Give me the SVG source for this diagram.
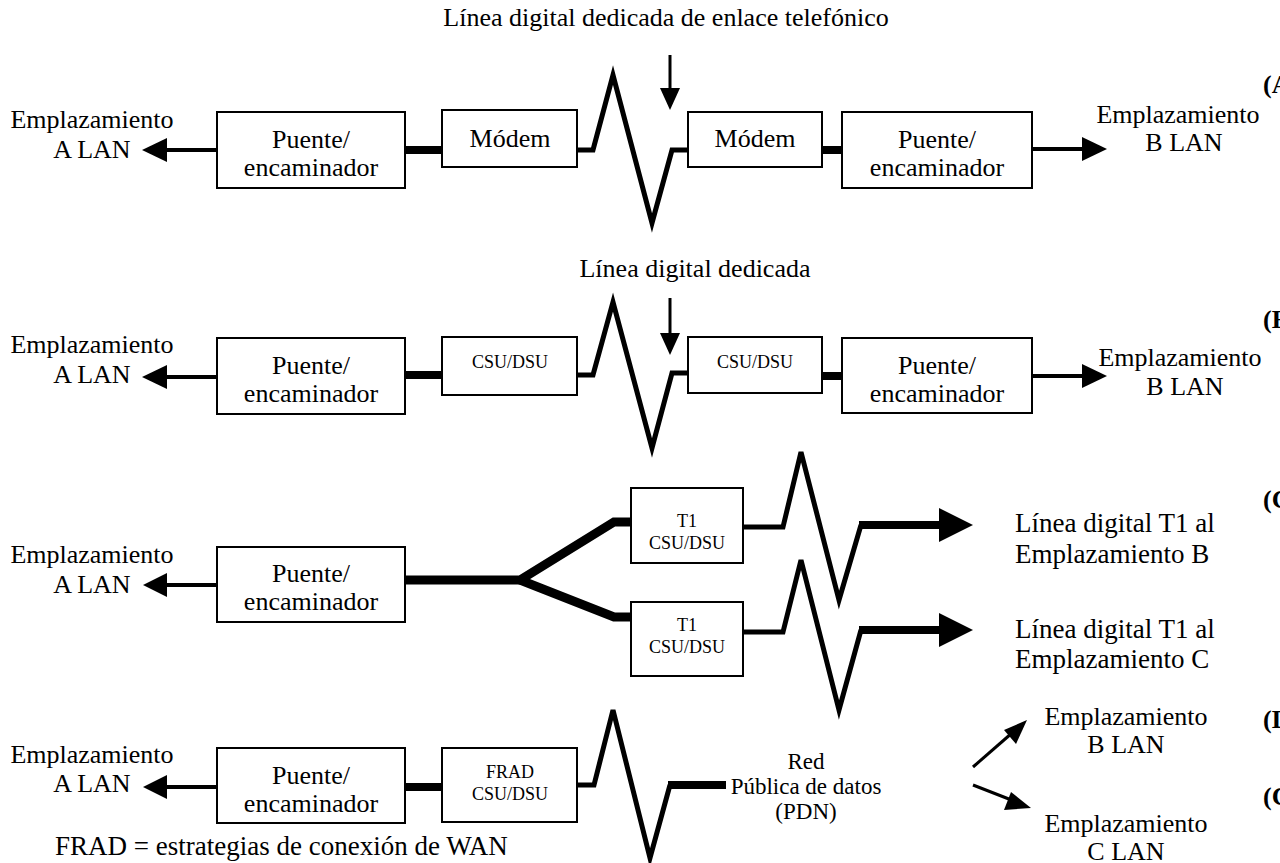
<svg xmlns="http://www.w3.org/2000/svg" width="1280" height="863" viewBox="0 0 1280 863">
<style>
.bg{fill:#fff}
.box{fill:#fff;stroke:#000;stroke-width:2}
.t{font-family:"Liberation Serif","Times New Roman",serif;font-size:26px;fill:#000}
.s{font-size:18px}
.r{font-size:27px}
.p{font-size:23px}
.b{font-weight:bold}
.m{text-anchor:middle}
.ln{fill:none;stroke:#000;stroke-linejoin:miter;stroke-linecap:butt}
.w3{stroke-width:3}
.w4{stroke-width:4}
.w5{stroke-width:5}
.w8{stroke-width:8}
.w9{stroke-width:9}
.ah{fill:#000}
</style>
<rect class="bg" x="0" y="0" width="1280" height="863"/>

<!-- Row A -->
<g id="titleA"><text class="t m" x="666" y="26">Línea digital dedicada de enlace telefónico</text></g>
<g id="labelA"><text class="t b" x="1263" y="93">(A</text></g>
<g id="lanA_A"><text class="t m" x="92" y="128">Emplazamiento</text><text class="t m" x="92" y="158">A LAN</text></g>
<g id="puenteA1"><rect class="box" x="217" y="112" width="188" height="76"/><text class="t m" x="311" y="148">Puente/</text><text class="t m" x="311" y="176">encaminador</text></g>
<g id="modemA1"><rect class="box" x="442" y="110" width="135" height="57"/><text class="t m" x="510" y="147">Módem</text></g>
<g id="modemA2"><rect class="box" x="688" y="112" width="134" height="55"/><text class="t m" x="755" y="147">Módem</text></g>
<g id="puenteA2"><rect class="box" x="842" y="112" width="190" height="76"/><text class="t m" x="937" y="148">Puente/</text><text class="t m" x="937" y="176">encaminador</text></g>
<g id="lanA_B"><text class="t m" x="1178" y="123">Emplazamiento</text><text class="t m" x="1184" y="151">B LAN</text></g>

<!-- Row B -->
<g id="titleB"><text class="t m" x="695" y="277">Línea digital dedicada</text></g>
<g id="labelB"><text class="t b" x="1263" y="328">(B</text></g>
<g id="lanB_A"><text class="t m" x="92" y="353">Emplazamiento</text><text class="t m" x="92" y="383">A LAN</text></g>
<g id="puenteB1"><rect class="box" x="217" y="338" width="188" height="76"/><text class="t m" x="311" y="374">Puente/</text><text class="t m" x="311" y="402">encaminador</text></g>
<g id="csuB1"><rect class="box" x="442" y="337" width="135" height="58"/><text class="t s m" x="510" y="368">CSU/DSU</text></g>
<g id="csuB2"><rect class="box" x="688" y="337" width="134" height="56"/><text class="t s m" x="755" y="368">CSU/DSU</text></g>
<g id="puenteB2"><rect class="box" x="842" y="338" width="190" height="75"/><text class="t m" x="937" y="374">Puente/</text><text class="t m" x="937" y="402">encaminador</text></g>
<g id="lanB_B"><text class="t m" x="1180" y="366">Emplazamiento</text><text class="t m" x="1185" y="395">B LAN</text></g>

<!-- Row C -->
<g id="labelC"><text class="t b" x="1263" y="508">(C</text></g>
<g id="lanC_A"><text class="t m" x="92" y="563">Emplazamiento</text><text class="t m" x="92" y="593">A LAN</text></g>
<g id="puenteC1"><rect class="box" x="217" y="547" width="188" height="75"/><text class="t m" x="311" y="582">Puente/</text><text class="t m" x="311" y="610">encaminador</text></g>
<g id="t1C1"><rect class="box" x="631" y="488" width="112" height="75"/><text class="t s m" x="687" y="527">T1</text><text class="t s m" x="687" y="549">CSU/DSU</text></g>
<g id="t1C2"><rect class="box" x="631" y="602" width="112" height="74"/><text class="t s m" x="687" y="631">T1</text><text class="t s m" x="687" y="653">CSU/DSU</text></g>
<g id="lineC_B"><text class="t r" x="1015" y="532">Línea digital T1 al</text><text class="t r" x="1015" y="563">Emplazamiento B</text></g>
<g id="lineC_C"><text class="t r" x="1015" y="638">Línea digital T1 al</text><text class="t r" x="1015" y="668">Emplazamiento C</text></g>

<!-- Row D -->
<g id="labelD"><text class="t b" x="1263" y="728">(D</text></g>
<g id="labelC2"><text class="t b" x="1263" y="805">(C</text></g>
<g id="lanD_A"><text class="t m" x="92" y="763">Emplazamiento</text><text class="t m" x="92" y="792">A LAN</text></g>
<g id="puenteD1"><rect class="box" x="217" y="748" width="188" height="75"/><text class="t m" x="311" y="784">Puente/</text><text class="t m" x="311" y="812">encaminador</text></g>
<g id="fradD"><rect class="box" x="442" y="748" width="135" height="74"/><text class="t s m" x="510" y="778">FRAD</text><text class="t s m" x="510" y="800">CSU/DSU</text></g>
<g id="pdn"><text class="t p m" x="806" y="769">Red</text><text class="t p m" x="806" y="794">Pública de datos</text><text class="t p m" x="806" y="819">(PDN)</text></g>
<g id="lanD_B"><text class="t m" x="1126" y="725">Emplazamiento</text><text class="t m" x="1126" y="753">B LAN</text></g>
<g id="lanD_C"><text class="t m" x="1126" y="832">Emplazamiento</text><text class="t m" x="1126" y="860">C LAN</text></g>
<g id="fradNote"><text class="t r" x="55" y="855">FRAD = estrategias de conexión de WAN</text></g>

<g id="connectors">
  <!-- Row A -->
  <line class="ln w4" x1="217" y1="150" x2="162" y2="150"/>
  <polygon class="ah" points="142,150 167,138 167,162"/>
  <line class="ln w8" x1="405" y1="150" x2="442" y2="150"/>
  <polyline class="ln w5" points="577,150 593,150 613,75 652,223 672,150 688,150"/>
  <line class="ln w3" x1="670" y1="55" x2="670" y2="92"/>
  <polygon class="ah" points="670,110 660,88 680,88"/>
  <line class="ln w8" x1="822" y1="150" x2="842" y2="150"/>
  <line class="ln w4" x1="1032" y1="149" x2="1086" y2="149"/>
  <polygon class="ah" points="1107,149 1082,137 1082,161"/>
  <!-- Row B -->
  <line class="ln w4" x1="217" y1="377" x2="162" y2="377"/>
  <polygon class="ah" points="142,377 167,365 167,389"/>
  <line class="ln w8" x1="405" y1="375" x2="442" y2="375"/>
  <polyline class="ln w5" points="577,375 593,375 613,302 652,448 672,373 688,373"/>
  <line class="ln w3" x1="670" y1="298" x2="670" y2="337"/>
  <polygon class="ah" points="670,355 660,333 680,333"/>
  <line class="ln w8" x1="822" y1="376" x2="842" y2="376"/>
  <line class="ln w4" x1="1032" y1="376" x2="1086" y2="376"/>
  <polygon class="ah" points="1107,376 1082,364 1082,388"/>
  <!-- Row C -->
  <line class="ln w4" x1="216" y1="585" x2="162" y2="585"/>
  <polygon class="ah" points="143,585 167,573 167,597"/>
  <polyline class="ln w9" points="405,580 520,580 614,522 631,522"/>
  <polyline class="ln w9" points="520,580 614,617 631,617"/>
  <polyline class="ln w5" points="743,527 783,527 801,452 839,600 861,525"/>
  <line class="ln w8" x1="859" y1="525" x2="941" y2="525"/>
  <polygon class="ah" points="973,525 939,508 939,542"/>
  <polyline class="ln w5" points="743,632 783,632 801,560 839,710 861,630"/>
  <line class="ln w8" x1="859" y1="630" x2="941" y2="630"/>
  <polygon class="ah" points="973,630 939,613 939,647"/>
  <!-- Row D -->
  <line class="ln w4" x1="216" y1="787" x2="162" y2="787"/>
  <polygon class="ah" points="143,787 167,775 167,799"/>
  <line class="ln w8" x1="405" y1="787" x2="442" y2="787"/>
  <polyline class="ln w5" points="577,785 594,785 613,710 650,858 670,785"/>
  <line class="ln w8" x1="668" y1="785" x2="726" y2="785"/>
  <line class="ln w3" x1="973" y1="767" x2="1012" y2="733"/>
  <polygon class="ah" points="1027,720 1016,744 1004,730"/>
  <line class="ln w3" x1="973" y1="785" x2="1014" y2="801"/>
  <polygon class="ah" points="1031,808 1004,810 1011,792"/>
</g>
</svg>
